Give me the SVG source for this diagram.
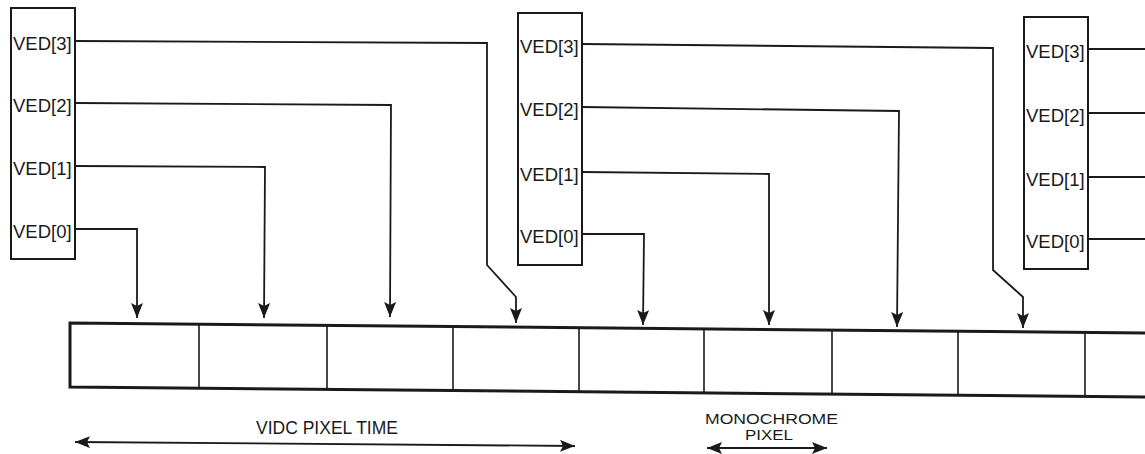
<svg xmlns="http://www.w3.org/2000/svg" width="1145" height="454" viewBox="0 0 1145 454">
<defs>
<marker id="ah" markerUnits="userSpaceOnUse" markerWidth="16" markerHeight="12" refX="15" refY="6" orient="auto-start-reverse">
<path d="M0,0 L15,6 L0,12 L3,6 z" fill="#1a1a1a"/>
</marker>
</defs>
<style>
.box{fill:none;stroke:#1a1a1a;stroke-width:2}
.lbl{font-family:"Liberation Sans",Arial,sans-serif;font-size:18.5px;fill:#1a1a1a}
.cap{font-family:"Liberation Sans",Arial,sans-serif;font-size:17.5px;fill:#1a1a1a}
.mono{font-family:"Liberation Sans",Arial,sans-serif;font-size:14px;fill:#1a1a1a}
.wire{fill:none;stroke:#1a1a1a;stroke-width:1.8}
.arr{fill:none;stroke:#1a1a1a;stroke-width:1.8;marker-end:url(#ah)}
.dbl{fill:none;stroke:#1a1a1a;stroke-width:1.8;marker-start:url(#ah);marker-end:url(#ah)}
.strip{fill:none;stroke:#1a1a1a;stroke-width:3}
.div{stroke:#1a1a1a;stroke-width:1.6}
</style>
<rect width="1145" height="454" fill="#ffffff"/>

<g id="latch1">
<rect class="box" x="11" y="8" width="64" height="251"/>
<text class="lbl" x="13" y="50">VED[3]</text>
<text class="lbl" x="13" y="112">VED[2]</text>
<text class="lbl" x="13" y="175">VED[1]</text>
<text class="lbl" x="13" y="238">VED[0]</text>
</g>

<g id="latch2">
<rect class="box" x="518" y="13" width="64" height="252"/>
<text class="lbl" x="520" y="53">VED[3]</text>
<text class="lbl" x="520" y="116">VED[2]</text>
<text class="lbl" x="520" y="181">VED[1]</text>
<text class="lbl" x="520" y="243">VED[0]</text>
</g>

<g id="latch3">
<rect class="box" x="1024" y="17" width="64" height="252"/>
<text class="lbl" x="1026" y="58">VED[3]</text>
<text class="lbl" x="1026" y="122">VED[2]</text>
<text class="lbl" x="1026" y="186">VED[1]</text>
<text class="lbl" x="1026" y="248">VED[0]</text>
</g>

<g id="pixel-strip">
<path class="strip" d="M1145,333 L70,323 L70,387 L1145,397"/>
<line class="div" x1="199" y1="324" x2="199" y2="388"/>
<line class="div" x1="327" y1="325" x2="327" y2="389"/>
<line class="div" x1="453" y1="326" x2="453" y2="390"/>
<line class="div" x1="579" y1="328" x2="579" y2="392"/>
<line class="div" x1="704" y1="329" x2="704" y2="393"/>
<line class="div" x1="832" y1="330" x2="832" y2="394"/>
<line class="div" x1="958" y1="331" x2="958" y2="395"/>
<line class="div" x1="1085" y1="332" x2="1085" y2="396"/>
</g>

<g id="connectors">
<path class="arr" d="M75,229 L137,229 L137,318"/>
<path class="arr" d="M75,166 L265,167 L264,318"/>
<path class="arr" d="M75,103 L391,105 L390,317"/>
<path class="arr" d="M75,41 L487,43 L487,265 L516,297 L516,323"/>
<path class="arr" d="M582,234 L644,234 L643,325"/>
<path class="arr" d="M582,172 L769,174 L769,325"/>
<path class="arr" d="M582,107 L899,111 L897,327"/>
<path class="arr" d="M582,44 L993,48 L993,270 L1023,297 L1023,328"/>
<path class="wire" d="M1088,49 L1145,49"/>
<path class="wire" d="M1088,113 L1145,113"/>
<path class="wire" d="M1088,177 L1145,177"/>
<path class="wire" d="M1088,239 L1145,239"/>
</g>

<g id="vidc-pixel-time">
<path class="dbl" d="M75,442 L575,446"/>
<text class="cap" x="256" y="434">VIDC PIXEL TIME</text>
</g>

<g id="monochrome-pixel">
<path class="dbl" d="M707,448 L827,448"/>
<text class="mono" x="705" y="424" textLength="133" lengthAdjust="spacingAndGlyphs">MONOCHROME</text>
<text class="mono" x="745" y="440" textLength="48" lengthAdjust="spacingAndGlyphs">PIXEL</text>
</g>
</svg>
